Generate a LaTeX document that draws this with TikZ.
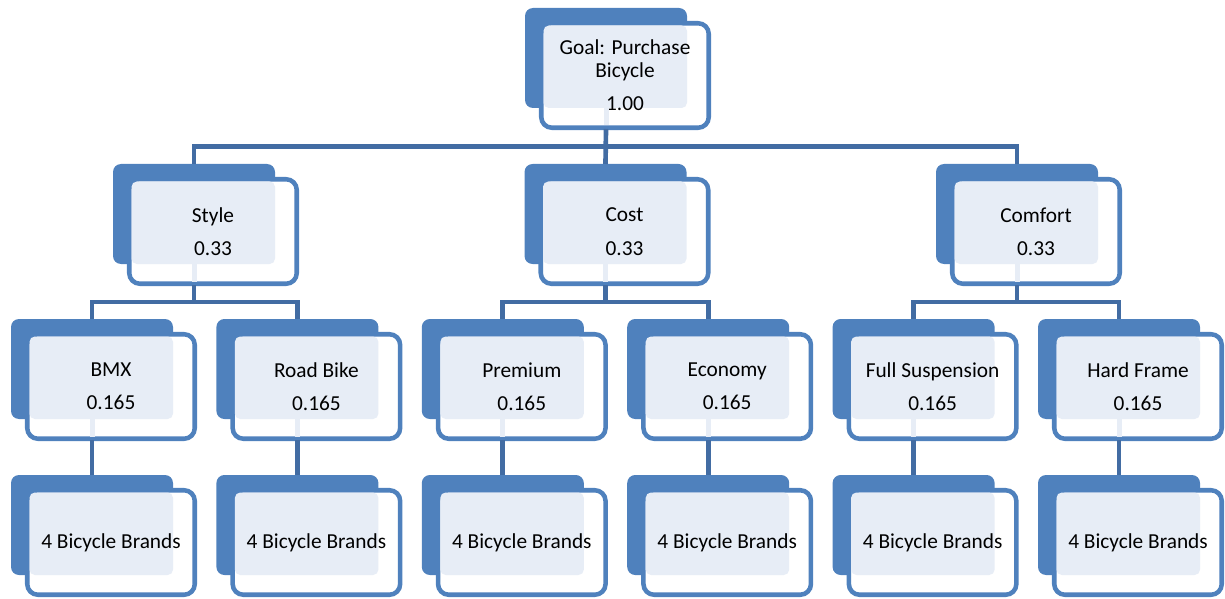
\documentclass[tikz,border=0pt]{standalone}
\usepackage{fontspec}
\setmainfont{Carlito}

\definecolor{boxblue}{RGB}{79,129,189}
\definecolor{patblue}{RGB}{231,237,246}
\definecolor{connblue}{RGB}{66,108,163}

\tikzset{
  plate/.style={fill=boxblue, rounded corners=6pt},
  frontbox/.style={draw=boxblue, fill=white, line width=3.4pt, rounded corners=8pt},
  dots/.style={fill=patblue, rounded corners=4pt},
  boxtext/.style={align=center, font=\fontsize{16}{17}\selectfont,
    minimum width=125pt, minimum height=78pt, inner sep=0pt},
  conn/.style={draw=connblue, line width=3.5pt}
}

% one block: name, top left corner of the back plate, text
\newcommand{\ahpbox}[4]{%
  \fill[plate] (#2,#3) rectangle ++(162,100);
  \draw[frontbox] (#2+16.25,#3+15.25) rectangle (#2+183.75,#3+119.75);
  \fill[dots] (#2+18.5,#3+17.5) rectangle (#2+162,#3+100);
  \node[boxtext] (#1) at (#2+100,#3+67.5) {#4};
  \coordinate (#1-in) at (#2+81,#3);
  \coordinate (#1-out) at (#2+81,#3+121);
}
% dotted strip where the connector leaves a block
\newcommand{\ahpgap}[2]{%
  \fill[patblue] (#1+78.5,#2+100) rectangle (#1+83.5,#2+117.5);
}

\begin{document}
\begin{tikzpicture}[x=0.75pt, y=-0.75pt]
  \useasboundingbox (0,0) rectangle (1225,599);

  % Goal
  \ahpbox{goal}{525}{8}{Goal: Purchase\\Bicycle\\[8pt]1.00}
  \ahpgap{525}{8}

  % Criteria
  \foreach \name/\txt [count=\i from 0] in {style/Style, cost/Cost, comfort/Comfort} {
    \ahpbox{\name}{113+411.5*\i}{164}{\txt\\[8pt]0.33}
    \ahpgap{113+411.5*\i}{164}
  }

  % Sub-criteria and alternatives
  \foreach \name/\txt [count=\i from 0] in {bmx/BMX, road/Road Bike, premium/Premium,
      economy/Economy, full/Full Suspension, hard/Hard Frame} {
    \ahpbox{\name}{11+205.4*\i}{319}{\txt\\[8pt]0.165}
    \ahpgap{11+205.4*\i}{319}
    \ahpbox{\name-brands}{11+205.4*\i}{475}{4 Bicycle Brands}
    \draw[conn] (\name-out) -- (\name-brands-in);
  }

  % Connectors
  \draw[conn] (goal-out) -- ++(0,17.5) -| (style-in);
  \draw[conn] (goal-out) -- ++(0,17.5) -| (comfort-in);
  \draw[conn] (goal-out) -- (cost-in);
  \foreach \up/\kidA/\kidB in {style/bmx/road, cost/premium/economy, comfort/full/hard} {
    \draw[conn] (\up-out) -- ++(0,17) -| (\kidA-in);
    \draw[conn] (\up-out) -- ++(0,17) -| (\kidB-in);
  }
\end{tikzpicture}
\end{document}
